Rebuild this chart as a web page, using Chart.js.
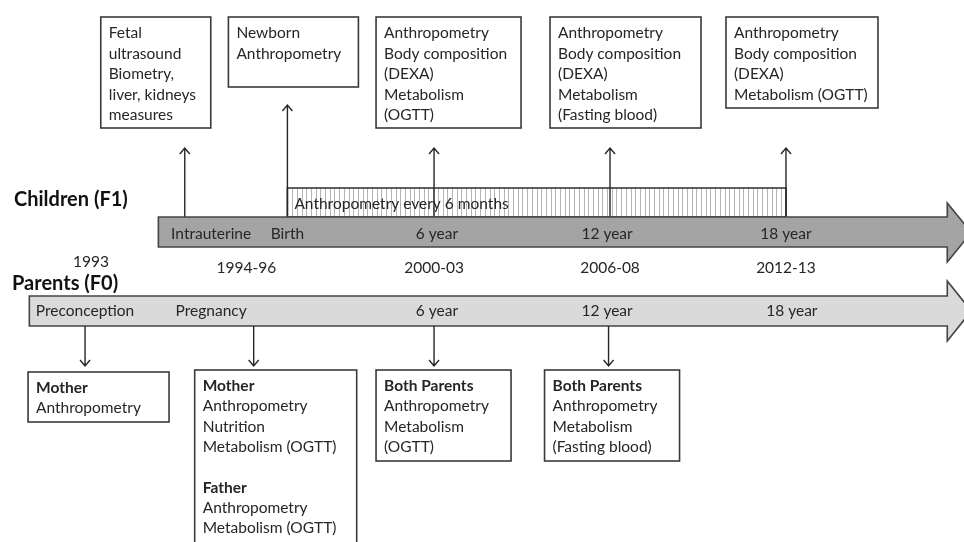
<!DOCTYPE html>
<html lang="en">
<head>
  <meta charset="UTF-8" />
  <title>Cohort timeline</title>
  <style>
    body { margin: 0; background: #fff; }
  </style>
</head>
<body>
  <canvas id="myChart" width="964" height="542"></canvas>

  <script src="https://cdn.jsdelivr.net/npm/chart.js"></script>
  <script>
    const ctx = document.getElementById('myChart');

// schematic timeline position (years, not to scale around birth)
const childWaves = ['Intrauterine', 'Birth', '6 year', '12 year', '18 year'];
const childWaveAt = [-2.5, 1, 6, 12, 18];
const childLabelAt = [-1.6, 1, 6.1, 11.9, 18];

const calendarYears = ['1993', '1994-96', '2000-03', '2006-08', '2012-13'];
const calendarAt = [-5.7, -0.4, 6, 12, 18];

const parentWaves = ['Preconception', 'Pregnancy', '6 year', '12 year', '18 year'];
const parentLabelAt = [-5.9, -1.6, 6.1, 11.9, 18.2];
const parentExamAt = [-5.9, -0.15, 6, 11.95];

const followUpSpan = [1, 18];
const childSpan = [-3.4, 23.5];
const parentSpan = [-7.8, 23.5];

const childExams = [
  ['Fetal', 'ultrasound', 'Biometry,', 'liver, kidneys', 'measures'],
  ['Newborn', 'Anthropometry'],
  ['Anthropometry', 'Body composition', '(DEXA)', 'Metabolism', '(OGTT)'],
  ['Anthropometry', 'Body composition', '(DEXA)', 'Metabolism', '(Fasting blood)'],
  ['Anthropometry', 'Body composition', '(DEXA)', 'Metabolism (OGTT)']
];

// '*' marks a bold heading, '' a blank line
const parentExams = [
  ['*Mother', 'Anthropometry'],
  ['*Mother', 'Anthropometry', 'Nutrition', 'Metabolism (OGTT)', '', '*Father', 'Anthropometry', 'Metabolism (OGTT)'],
  ['*Both Parents', 'Anthropometry', 'Metabolism', '(OGTT)'],
  ['*Both Parents', 'Anthropometry', 'Metabolism', '(Fasting blood)']
];

// vertical layout, in y-scale units
const LAYOUT = {
  topBox: 17,
  tip: [148, 105, 148, 148, 148],
  followTop: 188,
  childBar: [217, 247], childHead: [203, 262],
  childTitle: 200, yearRow: 268, firstYearRow: 262,
  parentTitle: 284,
  parentBar: [296, 326], parentHead: [281, 341],
  downTip: 366, bottomBox: [372, 370, 370, 370]
};
const TOP_BOXES = [
  {dx: -84, w: 110, h: 111}, {dx: -59, w: 130, h: 70}, {dx: -58, w: 145, h: 111},
  {dx: -60, w: 151, h: 111}, {dx: -60, w: 152, h: 91}
];
const BOTTOM_BOXES = [
  {dx: -57, w: 141, h: 50}, {dx: -59, w: 162, h: 185},
  {dx: -58, w: 135, h: 91}, {dx: -64, w: 135, h: 91}
];

const FONT = 'Lato, "Open Sans", sans-serif';
const INK = '#262626';

function arrowUp(c, x, y0, y1) {
  c.beginPath();
  c.moveTo(x, y0); c.lineTo(x, y1);
  c.moveTo(x - 5, y1 + 6); c.lineTo(x, y1); c.lineTo(x + 5, y1 + 6);
  c.stroke();
}
function arrowDown(c, x, y0, y1) {
  c.beginPath();
  c.moveTo(x, y0); c.lineTo(x, y1);
  c.moveTo(x - 5, y1 - 6); c.lineTo(x, y1); c.lineTo(x + 5, y1 - 6);
  c.stroke();
}
function bigArrow(c, x0, x1, bar, head, fill) {
  const mid = (head[0] + head[1]) / 2;
  c.beginPath();
  c.moveTo(x0, bar[0]); c.lineTo(x1, bar[0]); c.lineTo(x1, head[0]);
  c.lineTo(x1 + 24, mid); c.lineTo(x1, head[1]); c.lineTo(x1, bar[1]);
  c.lineTo(x0, bar[1]); c.closePath();
  c.fillStyle = fill; c.fill();
  c.strokeStyle = '#444'; c.lineWidth = 1.6; c.stroke();
}
function textBox(c, x, y, w, h, lines, step) {
  c.strokeStyle = '#3a3a3a'; c.lineWidth = 1.6;
  c.fillStyle = '#fff';
  c.fillRect(x, y, w, h);
  c.strokeRect(x, y, w, h);
  c.fillStyle = INK; c.textAlign = 'left'; c.textBaseline = 'middle';
  lines.forEach((t, i) => {
    const bold = t.startsWith('*');
    c.font = (bold ? 'bold ' : '') + '15.5px ' + FONT;
    c.fillText(bold ? t.slice(1) : t, x + 8, y + 16 + i * step);
  });
}

const timelinePlugin = {
  id: 'timeline',
  afterDraw(chart) {
    const c = chart.ctx;
    const X = v => chart.scales.x.getPixelForValue(v);
    const Y = v => chart.scales.y.getPixelForValue(v);
    c.save();

    // follow-up hatch block
    const fx0 = X(followUpSpan[0]), fx1 = X(followUpSpan[1]);
    c.strokeStyle = '#b4b4b4'; c.lineWidth = 1;
    for (let x = fx0 + 4.7; x < fx1; x += 4.7) {
      c.beginPath(); c.moveTo(Math.round(x) + 0.5, Y(LAYOUT.followTop)); c.lineTo(Math.round(x) + 0.5, Y(LAYOUT.childBar[0])); c.stroke();
    }
    c.strokeStyle = '#3a3a3a'; c.lineWidth = 1.6;
    c.strokeRect(fx0, Y(LAYOUT.followTop), fx1 - fx0, Y(LAYOUT.childBar[0]) - Y(LAYOUT.followTop));
    c.fillStyle = INK; c.font = '15.5px ' + FONT; c.textBaseline = 'middle'; c.textAlign = 'left';
    c.fillText('Anthropometry every 6 months', fx0 + 7, Y(204));

    // child exam arrows and boxes
    c.strokeStyle = INK; c.lineWidth = 1.4;
    childWaveAt.forEach((v, i) => arrowUp(c, X(v), Y(LAYOUT.childBar[0]), Y(LAYOUT.tip[i])));
    childExams.forEach((lines, i) => {
      const b = TOP_BOXES[i];
      textBox(c, X(childWaveAt[i]) + b.dx, Y(LAYOUT.topBox), b.w, b.h, lines, 20.5);
    });

    // timelines
    bigArrow(c, X(childSpan[0]), X(childSpan[1]), LAYOUT.childBar.map(Y), LAYOUT.childHead.map(Y), '#a4a4a4');
    bigArrow(c, X(parentSpan[0]), X(parentSpan[1]), LAYOUT.parentBar.map(Y), LAYOUT.parentHead.map(Y), '#dadada');

    c.fillStyle = INK; c.font = '15.5px ' + FONT; c.textAlign = 'center';
    const cMid = Y((LAYOUT.childBar[0] + LAYOUT.childBar[1]) / 2 + 2);
    childWaves.forEach((t, i) => c.fillText(t, X(childLabelAt[i]), cMid));
    const pMid = Y((LAYOUT.parentBar[0] + LAYOUT.parentBar[1]) / 2);
    parentWaves.forEach((t, i) => c.fillText(t, X(parentLabelAt[i]), pMid));
    calendarYears.forEach((t, i) => c.fillText(t, X(calendarAt[i]), Y(i === 0 ? LAYOUT.firstYearRow : LAYOUT.yearRow)));

    c.font = 'bold 20px ' + FONT; c.textAlign = 'left'; c.fillStyle = '#111';
    c.fillText('Children (F1)', 14, Y(LAYOUT.childTitle));
    c.fillText('Parents (F0)', 12, Y(LAYOUT.parentTitle));

    // parent exam arrows and boxes
    c.strokeStyle = INK; c.lineWidth = 1.4;
    parentExamAt.forEach(v => arrowDown(c, X(v), Y(LAYOUT.parentBar[1]), Y(LAYOUT.downTip)));
    parentExams.forEach((lines, i) => {
      const b = BOTTOM_BOXES[i];
      textBox(c, X(parentExamAt[i]) + b.dx, Y(LAYOUT.bottomBox[i]), b.w, b.h, lines, 20.3);
    });
    c.restore();
  }
};

    new Chart(ctx, {
      type: 'scatter',
      data: {
        datasets: [{
          label: 'Child waves',
          data: childWaveAt.map((v, i) => ({x: v, y: LAYOUT.childBar[0]})),
          pointRadius: 0
        }]
      },
      options: {
        responsive: false,
        animation: false,
        layout: { padding: 0 },
        scales: {
          x: { type: 'linear', display: false, min: -8.8, max: 24.07 },
          y: { type: 'linear', display: false, min: 0, max: 542, reverse: true }
        },
        plugins: {
          legend: { display: false },
          tooltip: { enabled: false }
        }
      },
      plugins: [timelinePlugin]
    });
  </script>
</body>
</html>
